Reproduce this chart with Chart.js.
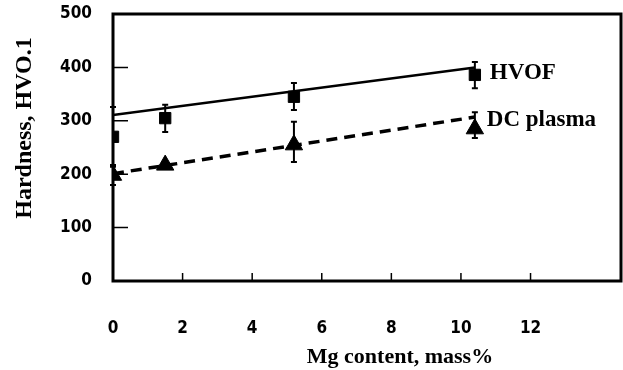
<!DOCTYPE html>
<html>
<head>
<meta charset="utf-8">
<script src="https://cdn.jsdelivr.net/npm/chart.js@4"></script>
<style>
  html, body { margin: 0; padding: 0; background: #fff; overflow: hidden; }
  #myChart { display: block; }
</style>
</head>
<body>
<canvas id="myChart" width="623" height="370"></canvas>
<script>
// values
const mgContent = [0, 1.5, 5.2, 10.4];
const hvofHard = [270, 305, 345, 386];
const hvofErrLo = [214, 279, 320, 361];
const hvofErrHi = [326, 330, 371, 410];
const dcHard = [198, 217, 255, 285];
const dcErrLo = [180, 211, 223, 268];
const dcErrHi = [217, 223, 298, 316];
// fitted lines, start and end
const fitX = [0, 10.4];
const hvofFit = [311, 400];
const dcFit = [201, 307];

const tickFont = { family: "'DejaVu Sans Condensed', 'DejaVu Sans', sans-serif", size: 17, weight: 'bold' };

function pts(xs, ys) {
  let out = [];
  for (let i = 0; i < xs.length; i++) out.push({ x: xs[i], y: ys[i] });
  return out;
}

// frame, inward ticks, error bars, series labels and axis titles
const extras = {
  id: 'extras',
  beforeDatasetsDraw(chart) {
    const ctx = chart.ctx;
    const xs = chart.scales.x, ys = chart.scales.y;
    ctx.save();
    ctx.strokeStyle = '#000';
    ctx.lineWidth = 2;
    const bars = [[hvofErrLo, hvofErrHi], [dcErrLo, dcErrHi]];
    bars.forEach(b => {
      for (let i = 0; i < mgContent.length; i++) {
        const px = xs.getPixelForValue(mgContent[i]);
        const lo = ys.getPixelForValue(b[0][i]);
        const hi = ys.getPixelForValue(b[1][i]);
        ctx.beginPath();
        ctx.moveTo(px, lo); ctx.lineTo(px, hi);
        ctx.moveTo(px - 3, lo); ctx.lineTo(px + 3, lo);
        ctx.moveTo(px - 3, hi); ctx.lineTo(px + 3, hi);
        ctx.stroke();
      }
    });
    ctx.restore();
  },
  afterDraw(chart) {
    const ctx = chart.ctx;
    const a = chart.chartArea;
    const xs = chart.scales.x, ys = chart.scales.y;
    ctx.save();
    ctx.strokeStyle = '#000';
    ctx.lineWidth = 1.5;
    ctx.beginPath();
    [100, 200, 300, 400].forEach(v => {
      const py = ys.getPixelForValue(v);
      ctx.moveTo(a.left, py); ctx.lineTo(a.left + 15, py);
    });
    [2, 4, 6, 8, 10, 12].forEach(v => {
      const px = xs.getPixelForValue(v);
      ctx.moveTo(px, a.bottom); ctx.lineTo(px, a.bottom - 8);
    });
    ctx.stroke();
    ctx.lineWidth = 3;
    ctx.strokeRect(a.left, a.top, a.right - a.left, a.bottom - a.top);

    ctx.fillStyle = '#000';
    ctx.font = "bold 23px 'Liberation Serif', 'Times New Roman', serif";
    ctx.textBaseline = 'middle';
    ctx.textAlign = 'left';
    const lx = xs.getPixelForValue(10.4) + 15;
    ctx.fillText('HVOF', lx, ys.getPixelForValue(390));
    ctx.fillText('DC plasma', lx - 3, ys.getPixelForValue(301));

    ctx.textAlign = 'center';
    ctx.font = "bold 22px 'Liberation Serif', 'Times New Roman', serif";
    ctx.fillText('Mg content, mass%', 400, 357);
    ctx.font = "bold 24px 'Liberation Serif', 'Times New Roman', serif";
    ctx.translate(25, 128);
    ctx.rotate(-Math.PI / 2);
    ctx.fillText('Hardness, HVO.1', 0, 0);
    ctx.restore();
  }
};

const ctx1 = document.getElementById('myChart');

new Chart(ctx1, {
  type: 'scatter',
  data: {
    datasets: [{
      label: 'HVOF fit',
      data: pts(fitX, hvofFit),
      showLine: true,
      borderColor: '#000',
      borderWidth: 2.5,
      pointRadius: 0
    }, {
      label: 'DC plasma fit',
      data: pts(fitX, dcFit),
      showLine: true,
      borderColor: '#000',
      borderWidth: 3.5,
      borderDash: [11, 7],
      pointRadius: 0
    }, {
      label: 'HVOF',
      data: pts(mgContent, hvofHard),
      pointStyle: 'rect',
      pointRadius: 8,
      backgroundColor: '#000',
      borderColor: '#000'
    }, {
      label: 'DC plasma',
      data: pts(mgContent, dcHard),
      pointStyle: 'triangle',
      pointRadius: 10,
      backgroundColor: '#000',
      borderColor: '#000'
    }]
  },
  options: {
    responsive: false,
    animation: false,
    devicePixelRatio: 1,
    layout: { autoPadding: false, padding: { top: 14, right: 2, left: 0, bottom: 0 } },
    plugins: {
      legend: { display: false },
      tooltip: { enabled: false }
    },
    scales: {
      x: {
        type: 'linear',
        min: 0,
        max: 14.6,
        grid: { display: false, drawTicks: false },
        border: { display: false },
        ticks: {
          stepSize: 2,
          color: '#000',
          font: tickFont,
          padding: 37,
          maxRotation: 0,
          callback: v => (v <= 12 && v % 2 === 0) ? v : ''
        },
        afterFit: s => {
          s.height = 89;
          s.paddingLeft = 0;
          s.paddingRight = 0;
        }
      },
      y: {
        min: 0,
        max: 500,
        grid: { display: false, drawTicks: false },
        border: { display: false },
        ticks: {
          stepSize: 100,
          color: '#000',
          font: tickFont,
          padding: 21
        },
        afterFit: s => {
          s.width = 113;
          s.paddingTop = 0;
          s.paddingBottom = 0;
        }
      }
    }
  },
  plugins: [extras]
});
</script>
</body>
</html>
